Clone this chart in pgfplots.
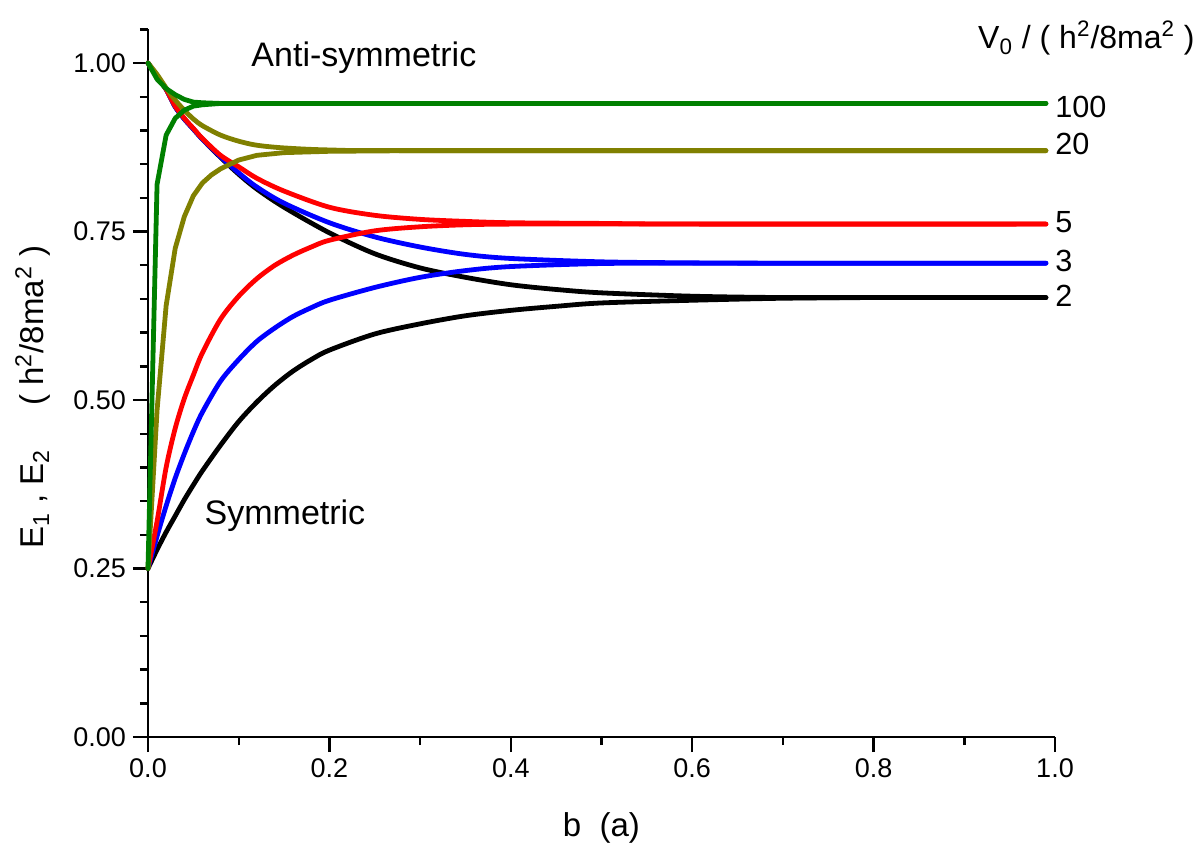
\documentclass[border=0pt]{standalone}
\usepackage{fontspec}
\setmainfont{Liberation Sans}
\usepackage{pgfplots}
\pgfplotsset{compat=1.18}
\definecolor{vgreen}{RGB}{0,128,0}
\definecolor{volive}{RGB}{128,128,0}
\begin{document}
\begin{tikzpicture}
\begin{axis}[
  at={(0,0)}, anchor=south west,
  scale only axis, width=453.5pt, height=353.85pt,
  xmin=0, xmax=1, ymin=0, ymax=1.05,
  axis lines=left, axis line style={line width=1.2pt,-},
  tick align=outside,
  xtick={0,0.2,0.4,0.6,0.8,1.0},
  minor xtick={0.1,0.3,0.5,0.7,0.9},
  ytick={0,0.25,0.5,0.75,1.0},
  minor ytick={0.05,0.1,0.15,0.2,0.3,0.35,0.4,0.45,0.55,0.6,0.65,0.7,0.8,0.85,0.9,0.95,1.05},
  major tick length=7.5pt, minor tick length=4pt,
  every tick/.style={black, line width=1.2pt},
  xticklabel style={/pgf/number format/.cd, fixed, fixed zerofill, precision=1},
  yticklabel style={/pgf/number format/.cd, fixed, fixed zerofill, precision=2},
  /pgf/number format/assume math mode=true,
  tick label style={font=\fontsize{13.5}{16}\selectfont},
  clip=false,
  every axis plot/.append style={line width=2.4pt, line join=round, line cap=round},
]
% V0 = 2 (black)
\addplot[black, smooth, tension=0.5] coordinates {
(0,1.000)(0.01,0.980)(0.02,0.961)(0.03,0.935)(0.04,0.917)(0.05,0.902)(0.06,0.887)(0.08,0.860)
(0.10,0.835)(0.12,0.813)(0.15,0.786)(0.20,0.748)(0.25,0.717)(0.30,0.696)(0.35,0.682)(0.40,0.671)
(0.45,0.664)(0.50,0.659)(0.60,0.654)(0.70,0.652)(0.80,0.652)(0.99,0.652)};
\addplot[black, smooth, tension=0.5] coordinates {
(0,0.250)(0.01,0.278)(0.02,0.304)(0.03,0.328)(0.04,0.352)(0.05,0.374)(0.06,0.395)(0.08,0.433)
(0.10,0.468)(0.12,0.497)(0.14,0.522)(0.16,0.543)(0.18,0.560)(0.20,0.574)(0.25,0.598)(0.30,0.613)(0.35,0.625)(0.40,0.633)
(0.45,0.639)(0.50,0.644)(0.60,0.648)(0.70,0.651)(0.80,0.652)(0.99,0.652)};
% V0 = 3 (blue)
\addplot[blue, smooth, tension=0.5] coordinates {
(0,1.000)(0.01,0.980)(0.02,0.961)(0.03,0.935)(0.04,0.917)(0.05,0.902)(0.06,0.887)(0.08,0.861)
(0.10,0.837)(0.12,0.816)(0.15,0.792)(0.20,0.763)(0.25,0.742)(0.30,0.727)(0.35,0.716)(0.40,0.710)
(0.50,0.705)(0.60,0.7035)(0.70,0.703)(0.99,0.703)};
\addplot[blue, smooth, tension=0.5] coordinates {
(0,0.250)(0.01,0.298)(0.02,0.343)(0.03,0.384)(0.04,0.420)(0.05,0.453)(0.06,0.482)(0.08,0.528)
(0.10,0.560)(0.12,0.587)(0.14,0.607)(0.16,0.624)(0.18,0.637)(0.20,0.648)(0.25,0.667)(0.30,0.682)(0.35,0.692)(0.40,0.698)
(0.50,0.7025)(0.60,0.703)(0.70,0.703)(0.99,0.703)};
% V0 = 5 (red)
\addplot[red, smooth, tension=0.5] coordinates {
(0,1.000)(0.01,0.980)(0.02,0.961)(0.03,0.936)(0.04,0.918)(0.05,0.903)(0.06,0.888)(0.08,0.863)
(0.10,0.846)(0.12,0.829)(0.15,0.810)(0.20,0.786)(0.25,0.774)(0.30,0.768)(0.35,0.765)(0.40,0.763)
(0.50,0.762)(0.60,0.761)(0.99,0.761)};
\addplot[red, smooth, tension=0.5] coordinates {
(0,0.250)(0.01,0.320)(0.02,0.400)(0.03,0.458)(0.04,0.502)(0.05,0.537)(0.06,0.570)(0.08,0.620)
(0.10,0.654)(0.12,0.680)(0.14,0.700)(0.16,0.715)(0.18,0.727)(0.20,0.737)(0.25,0.751)(0.30,0.757)(0.35,0.760)(0.40,0.761)
(0.50,0.761)(0.99,0.761)};
% V0 = 20 (olive)
\addplot[volive, smooth, tension=0.5] coordinates {
(0,1.000)(0.01,0.983)(0.02,0.963)(0.03,0.945)(0.04,0.930)(0.05,0.917)(0.06,0.907)(0.08,0.893)
(0.10,0.884)(0.12,0.878)(0.15,0.874)(0.20,0.871)(0.30,0.870)(0.99,0.870)};
\addplot[volive] coordinates {
(0,0.250)(0.01,0.485)(0.02,0.640)(0.03,0.725)(0.04,0.772)(0.05,0.803)(0.06,0.822)(0.07,0.834)(0.08,0.843)
(0.10,0.856)(0.12,0.863)(0.15,0.867)(0.20,0.869)(0.30,0.870)(0.99,0.870)};
% V0 = 100 (green)
\addplot[vgreen] coordinates {
(0,1.000)(0.01,0.976)(0.02,0.962)(0.03,0.953)(0.04,0.946)(0.05,0.942)(0.06,0.941)(0.08,0.940)(0.99,0.940)};
\addplot[vgreen] coordinates {
(0,0.250)(0.01,0.820)(0.02,0.893)(0.03,0.918)(0.04,0.930)(0.05,0.936)(0.06,0.938)(0.08,0.940)(0.99,0.940)};
% labels
\begin{scope}[every node/.style={inner sep=0pt}]
\node[anchor=west, font=\fontsize{15.3}{18}\selectfont] at (axis cs:1.0,0.935) {100};
\node[anchor=west, font=\fontsize{15.3}{18}\selectfont] at (axis cs:1.0,0.880) {20};
\node[anchor=west, font=\fontsize{15.3}{18}\selectfont] at (axis cs:1.0,0.764) {5};
\node[anchor=west, font=\fontsize{15.3}{18}\selectfont] at (axis cs:1.0,0.706) {3};
\node[anchor=west, font=\fontsize{15.3}{18}\selectfont] at (axis cs:1.0,0.654) {2};
\node[anchor=east, font=\fontsize{16}{19}\selectfont] at (axis cs:1.1544,1.037) {V\textsubscript{0} / ( h\textsuperscript{2}/8ma\textsuperscript{2} )};
\node[font=\fontsize{17}{20}\selectfont] at (axis cs:0.238,1.008) {Anti-symmetric};
\node[font=\fontsize{17}{20}\selectfont] at (axis cs:0.151,0.329) {Symmetric};
\node[font=\fontsize{16.5}{20}\selectfont] at (axis cs:0.5,-0.135) {b\ \ (a)};
\node[font=\fontsize{16.5}{20}\selectfont, rotate=90] at (axis cs:-0.1268,0.504) {E\textsubscript{1} , E\textsubscript{2}\hspace{22pt}( h\textsuperscript{2}/8ma\textsuperscript{2} )};
\end{scope}
\end{axis}
\pgfresetboundingbox
\path[use as bounding box] (-74pt,-55.5pt) rectangle (527pt,368.5pt);
\end{tikzpicture}
\end{document}
